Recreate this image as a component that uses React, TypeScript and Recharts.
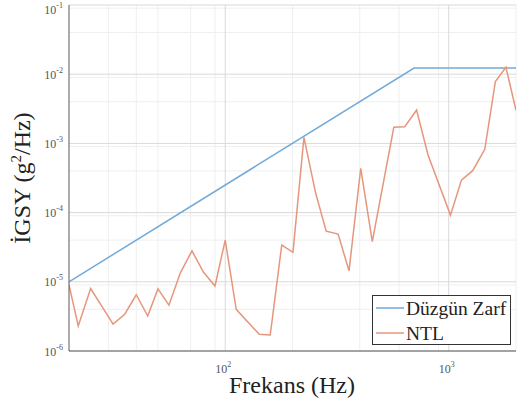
import { CartesianGrid, Label, Legend, Line, LineChart, XAxis, YAxis } from 'recharts'

// Düzgün Zarf (envelope)
const envFreq = [20, 700, 2000]
const envPsd = [1e-5, 1.225e-2, 1.225e-2]

// NTL measured PSD
const ntlFreq = [
  20, 22, 25, 31.5, 35.5, 40, 45, 50, 56, 63, 71, 80, 90, 100, 112, 142, 159, 179, 201,
  225, 254, 283, 320, 358, 404, 455, 568, 636, 718, 808, 1018, 1140, 1280, 1450, 1617,
  1803, 2000,
]
const ntlPsd = [
  9e-6, 2.3e-6, 8e-6, 2.45e-6, 3.4e-6, 6.5e-6, 3.2e-6, 7.9e-6, 4.6e-6, 1.35e-5, 2.8e-5,
  1.37e-5, 8.7e-6, 4.0e-5, 4.0e-6, 1.74e-6, 1.7e-6, 3.4e-5, 2.67e-5, 1.22e-3, 1.9e-4,
  5.4e-5, 4.9e-5, 1.44e-5, 4.37e-4, 3.8e-5, 1.71e-3, 1.74e-3, 3.04e-3, 6.8e-4, 9.2e-5,
  2.95e-4, 4.04e-4, 8.2e-4, 7.8e-3, 1.26e-2, 3.0e-3,
]

const xMajor = [100, 1000]
const yMajor = [1e-6, 1e-5, 1e-4, 1e-3, 1e-2, 1e-1]
const xMinor = [30, 40, 50, 60, 70, 80, 90, 200, 300, 400, 500, 600, 700, 800, 900, 2000]
const minorSteps = [2, 3, 4, 5, 6, 7, 8, 9]
const yMinor = yMajor.slice(0, -1).flatMap((d) => minorSteps.map((m) => m * d))

const envData = envFreq.map((f, i) => ({ f, psd: envPsd[i] }))
const ntlData = ntlFreq.map((f, i) => ({ f, psd: ntlPsd[i] }))

const BLUE = '#72aad8'
const ORANGE = '#e6967c'
const AXIS = '#5a5a5a'
const SERIF = "'Liberation Serif', 'Times New Roman', serif"

function XTick({ x, y, payload }: any) {
  const e = Math.round(Math.log10(payload.value))
  return (
    <text x={x - 2} y={y + 22} textAnchor="middle" fontFamily={SERIF} fontSize={12} fill="#555">
      10<tspan dy={-6} fontSize={8}>{e}</tspan>
    </text>
  )
}

function YTick({ x, y, payload }: any) {
  const e = Math.round(Math.log10(payload.value))
  return (
    <text x={x - 6} y={y + 4.5} textAnchor="end" fontFamily={SERIF} fontSize={12} fill="#555">
      10<tspan dy={-6} fontSize={8}>{e}</tspan>
    </text>
  )
}

// legend drawn as a small svg so the serif font matches the axis labels
function LegendBox() {
  const rows = [
    { name: 'Düzgün Zarf', color: BLUE },
    { name: 'NTL', color: ORANGE },
  ]
  return (
    <svg width={139} height={50} style={{ display: 'block' }}>
      <rect x={0.5} y={0.5} width={138} height={49} fill="#fff" stroke="#333" />
      {rows.map((r, i) => (
        <g key={r.name}>
          <line x1={4} x2={32} y1={13 + i * 25} y2={13 + i * 25} stroke={r.color} strokeWidth={1.5} />
          <text x={34} y={19.5 + i * 25} fontFamily={SERIF} fontSize={19.5} fill="#222">
            {r.name}
          </text>
        </g>
      ))}
    </svg>
  )
}

export default function App() {
  return (
    <div style={{ position: 'absolute', left: 0, top: 0, background: '#fff' }}>
      <LineChart width={517} height={412} margin={{ top: 5, right: 1, bottom: 0, left: 0 }}>
        <CartesianGrid
          stroke="#efefef"
          strokeWidth={1}
          verticalValues={xMinor}
          horizontalValues={yMinor}
        />
        <CartesianGrid
          stroke="#d9d9d9"
          strokeWidth={1}
          verticalValues={xMajor}
          horizontalValues={yMajor}
        />
        <XAxis
          dataKey="f"
          type="number"
          scale="log"
          domain={[20, 2000]}
          allowDataOverflow
          ticks={xMajor}
          height={61}
          tickSize={0}
          tickMargin={0}
          tick={<XTick />}
          stroke={AXIS}
        >
          <Label
            content={() => (
              <text
                x={292}
                y={393}
                textAnchor="middle"
                fontFamily={SERIF}
                fontSize={24}
                fill="#222"
              >
                Frekans (Hz)
              </text>
            )}
          />
        </XAxis>
        <XAxis
          xAxisId="top"
          orientation="top"
          dataKey="f"
          type="number"
          scale="log"
          domain={[20, 2000]}
          allowDataOverflow
          height={0}
          tick={false}
          tickLine={false}
          stroke={AXIS}
        />
        <YAxis
          dataKey="psd"
          type="number"
          scale="log"
          domain={[1e-6, 1e-1]}
          allowDataOverflow
          ticks={yMajor}
          width={69}
          tickSize={0}
          tickMargin={0}
          tick={<YTick />}
          stroke={AXIS}
        >
          <Label
            content={() => (
              <text
                transform="translate(30,178) rotate(-90)"
                textAnchor="middle"
                fontFamily={SERIF}
                fontSize={24}
                fill="#222"
              >
                İGSY (g<tspan dy={-9} fontSize={15}>2</tspan>
                <tspan dy={9}>/Hz)</tspan>
              </text>
            )}
          />
        </YAxis>
        <YAxis
          yAxisId="right"
          orientation="right"
          type="number"
          scale="log"
          domain={[1e-6, 1e-1]}
          width={0}
          tick={false}
          tickLine={false}
          stroke={AXIS}
        />
        <Line
          data={envData}
          dataKey="psd"
          name="Düzgün Zarf"
          stroke={BLUE}
          strokeWidth={1.5}
          dot={false}
          isAnimationActive={false}
        />
        <Line
          data={ntlData}
          dataKey="psd"
          name="NTL"
          stroke={ORANGE}
          strokeWidth={1.5}
          dot={false}
          isAnimationActive={false}
        />
        <Legend
          layout="vertical"
          align="center"
          verticalAlign="middle"
          content={() => <LegendBox />}
          wrapperStyle={{ left: 372, top: 295, width: 139, height: 50 }}
        />
      </LineChart>
    </div>
  )
}
